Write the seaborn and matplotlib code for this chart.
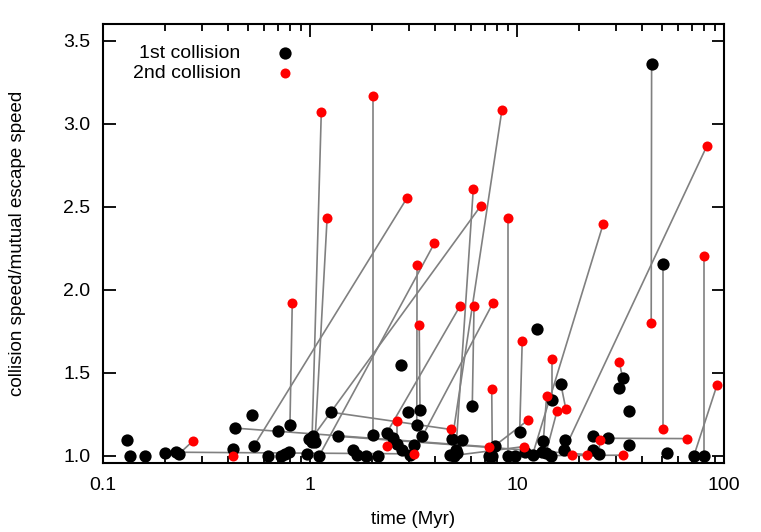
import numpy as np
import matplotlib
matplotlib.use("Agg")
import matplotlib.pyplot as plt
import seaborn as sns
from matplotlib.ticker import LogLocator, MultipleLocator, FixedLocator, FixedFormatter

# first collision (time, speed) paired with second collision (time, speed)
first_t = [0.234, 0.423, 0.80, 1.022, 1.057, 2.01, 2.53, 2.62, 0.535, 0.225,
           3.28, 3.40, 1.109, 1.263, 2.35, 5.07, 6.08, 1.037, 0.436, 7.6,
           3.49, 4.87, 9.08, 10.3, 4.94, 7.83, 13.4, 14.7, 13.8, 16.3,
           17.1, 1.36, 24.9, 11.9, 32.4, 14.6, 44.7, 50.9, 27.5, 80.0,
           16.9, 71.6]
first_v = [1.012, 1.042, 1.185, 1.084, 1.084, 1.122, 1.107, 1.072, 1.056, 1.02,
           1.181, 1.277, 1.0, 1.261, 1.137, 1.036, 1.297, 1.116, 1.165, 1.0,
           1.116, 1.1, 1.0, 1.14, 1.0, 1.06, 1.086, 1.333, 1.016, 1.428,
           1.092, 1.116, 1.01, 1.006, 1.466, 1.0, 3.36, 2.151, 1.104, 1.0,
           1.032, 1.0]
second_t = [0.271, 0.425, 0.821, 1.134, 1.21, 2.01, 2.35, 2.62, 2.95, 3.19,
            3.29, 3.37, 3.99, 4.80, 5.29, 6.15, 6.2, 6.70, 7.35, 7.55,
            7.66, 8.46, 9.08, 10.6, 10.8, 11.3, 13.9, 14.7, 15.6, 17.2,
            18.5, 21.7, 25.1, 26.1, 31.2, 32.6, 44.5, 50.9, 66.5, 80.0,
            82.5, 92.5]
second_v = [1.086, 1.0, 1.922, 3.072, 2.434, 3.167, 1.056, 1.211, 2.554, 1.01,
            2.146, 1.785, 2.279, 1.157, 1.898, 2.607, 1.898, 2.506, 1.052, 1.398,
            1.92, 3.083, 2.434, 1.693, 1.054, 1.213, 1.357, 1.584, 1.267, 1.283,
            1.006, 1.006, 1.092, 2.396, 1.564, 1.002, 1.80, 1.157, 1.102, 2.205,
            2.863, 1.424]

# bodies with only one collision
single_t = [0.130, 0.1355, 0.159, 0.2, 0.523, 0.625, 0.722, 0.76, 0.789, 0.97,
            0.99, 1.62, 1.69, 1.865, 2.12, 0.698, 2.77, 2.74, 2.985, 3.18,
            3.04, 4.75, 5.11, 5.44, 7.35, 9.77, 10.9, 12.45, 13.2, 23.4,
            23.4, 31.0, 34.6, 34.8, 53.2]
single_v = [1.096, 1.0, 1.0, 1.016, 1.245, 1.0, 1.0, 1.008, 1.02, 1.012,
            1.1, 1.032, 1.006, 1.0, 1.0, 1.149, 1.036, 1.548, 1.261, 1.066,
            1.006, 1.006, 1.016, 1.096, 1.0, 1.0, 1.02, 1.763, 1.022, 1.12,
            1.036, 1.405, 1.271, 1.064, 1.016]

plt.rcParams['font.family'] = ['Liberation Sans', 'DejaVu Sans']
fig = plt.figure(figsize=(7.61, 5.32), dpi=100)
ax = fig.add_axes([103/761, 1-463/532, 621/761, 439/532])

for t1, v1, t2, v2 in zip(first_t, first_v, second_t, second_v):
    ax.plot([t1, t2], [v1, v2], color="#808080", lw=1.2, zorder=1)

black_t = first_t + single_t
black_v = first_v + single_v
sns.scatterplot(x=black_t, y=black_v, color="black", s=78, linewidth=0,
                ax=ax, zorder=3, label="1st collision")
sns.scatterplot(x=second_t, y=second_v, color="red", s=52, linewidth=0,
                ax=ax, zorder=4, label="2nd collision")

ax.set_xscale("log")
ax.set_xlim(0.1, 100)
ax.set_ylim(0.955, 3.6)
ax.yaxis.set_major_locator(MultipleLocator(0.5))
ax.yaxis.set_major_formatter(matplotlib.ticker.FormatStrFormatter("%.1f"))
ax.xaxis.set_major_locator(FixedLocator([0.1, 1, 10, 100]))
ax.xaxis.set_major_formatter(FixedFormatter(["0.1", "1", "10", "100"]))
ax.xaxis.set_minor_locator(LogLocator(base=10, subs=np.arange(2, 10)))
ax.tick_params(which="both", direction="in", top=True, right=True, labelsize=14,
               width=1.3, colors="black")
ax.tick_params(axis="y", pad=9)
ax.tick_params(axis="x", pad=10)
ax.tick_params(which="major", length=9)
ax.tick_params(which="minor", length=5)
for s in ax.spines.values():
    s.set_linewidth(1.5)
ax.set_xlabel("time (Myr)", fontsize=13.5, labelpad=12)
ax.set_ylabel("collision speed/mutual escape speed", fontsize=13.5, labelpad=27)

ax.legend(loc="upper left", frameon=False, markerfirst=False, fontsize=14,
          handletextpad=1.8, labelspacing=0.12, borderaxespad=0.0,
          handlelength=1.0, bbox_to_anchor=(0.035, 0.972))

fig.savefig("out.png", dpi=100)
